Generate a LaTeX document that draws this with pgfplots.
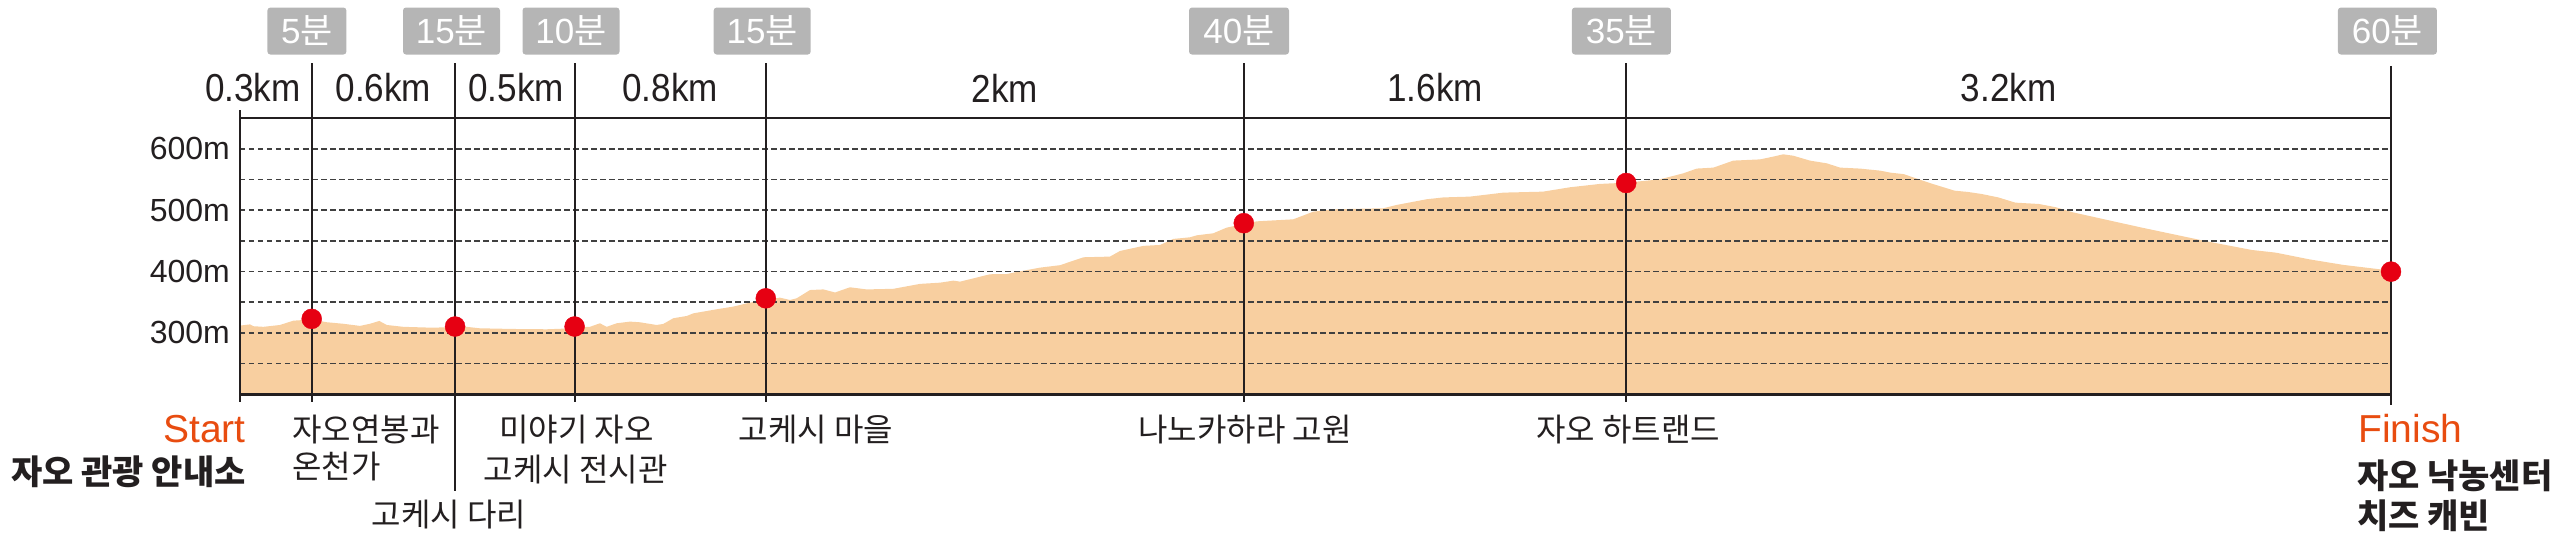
\documentclass[border=0pt]{standalone}
\usepackage{pgfplots}
\pgfplotsset{compat=1.18}
\usepackage{fontspec}
\setmainfont{Liberation Sans}
\newfontfamily\kr{Noto Sans CJK KR}
\newfontfamily\cond{Liberation Sans}[FakeStretch=0.9]
\definecolor{peach}{HTML}{F8CFA0}
\definecolor{dotred}{HTML}{E60012}
\definecolor{boxgray}{HTML}{B5B5B5}
\definecolor{ink}{HTML}{231F20}
\definecolor{startorange}{HTML}{E84C10}
\definecolor{gridc}{HTML}{404040}
\tikzset{
  boxnode/.style={fill=boxgray, rounded corners=3pt, minimum height=47pt, inner sep=0pt, text=white, font=\fontsize{35}{35}\selectfont},
  dist/.style={font=\cond\fontsize{39}{39}\selectfont, text=ink, inner sep=0pt},
  lab/.style={font=\kr\fontsize{32}{32}\selectfont, text=ink, inner sep=0pt},
  blab/.style={font=\kr\bfseries\fontsize{34}{34}\selectfont, text=ink, inner sep=0pt},
  olab/.style={font=\fontsize{39}{39}\selectfont, text=startorange, inner sep=0pt},
}
\begin{document}
\begin{tikzpicture}
\begin{axis}[
  at={(240pt,145.7pt)}, anchor=south west,
  scale only axis, width=2151pt, height=276pt,
  xmin=0, xmax=9, ymin=200, ymax=650,
  clip=false,
  axis line style={draw=none},
  xtick=\empty,
  ytick={300,400,500,600},
  yticklabels={300m,400m,500m,600m},
  major tick length=0pt,
  yticklabel style={font=\fontsize{32}{32}\selectfont, text=ink, inner sep=0pt, anchor=east, xshift=-10pt},
]
% elevation profile
\addplot[fill=peach, draw=none] coordinates {
(0,312) (0.042,314) (0.056,311) (0.098,310) (0.167,313) (0.223,320) (0.3,322)
(0.363,317.5) (0.432,315) (0.502,311.5) (0.544,315) (0.583,319.6) (0.614,313)
(0.683,310) (0.795,308.7) (0.851,309) (0.9,310) (0.948,310) (1.004,307.6)
(1.144,306.5) (1.283,306) (1.353,307) (1.4,309) (1.464,310) (1.506,315.8)
(1.534,310) (1.576,315.8) (1.632,318.5) (1.674,317.4) (1.743,313) (1.771,314.7)
(1.813,324) (1.869,327.7) (1.897,332) (1.994,338.6) (2.064,343) (2.134,349.5)
(2.2,354) (2.259,357.6) (2.301,353.8) (2.329,356.5) (2.385,370) (2.441,371)
(2.49,366) (2.552,374.5) (2.622,371) (2.734,372) (2.845,380) (2.929,382)
(2.985,385.3) (3.013,383.7) (3.138,395.7) (3.208,396) (3.25,399.5) (3.347,406.5)
(3.431,410.5) (3.529,423.4) (3.64,424.5) (3.682,433.7) (3.78,442) (3.85,443.5)
(3.905,453.3) (3.975,456) (4.003,459.2) (4.072,462.5) (4.128,471.7) (4.2,477.7)
(4.254,482) (4.407,485.3) (4.491,497.8) (4.575,501.6) (4.784,503.3) (4.839,508.7)
(4.965,518) (5.035,521) (5.146,522.3) (5.286,528.8) (5.452,530.4) (5.564,537.5)
(5.69,543) (5.8,545) (5.941,550.5) (6.039,560.3) (6.095,568) (6.165,569.6)
(6.248,581) (6.36,583) (6.415,587.5) (6.457,591.3) (6.499,589) (6.569,581)
(6.639,576.6) (6.695,569.6) (6.778,568) (6.862,564.7) (6.905,561.4) (6.961,559)
(7.074,544) (7.174,532) (7.23,529.9) (7.287,526.6) (7.357,521) (7.428,512.5)
(7.527,510.3) (7.598,505) (7.669,496.7) (7.951,472.3) (8.234,449) (8.418,435.3)
(8.517,431) (8.659,420) (8.8,411) (9.0,401.6)
} \closedcycle;
% dashed grid
\pgfplotsinvokeforeach{250,300,350,400,450,500,550,600}{
  \draw[gridc, line width=1.6pt, dash pattern=on 5.5pt off 3.5pt] (axis cs:0,#1) -- (axis cs:9,#1);
}
% frame lines
\draw[ink, line width=2.2pt] (axis cs:0,650) -- (axis cs:9,650);
\draw[ink, line width=2.6pt] (axis cs:0,200) -- (axis cs:9,200);
\draw[ink, line width=2.2pt] (axis cs:0,663.5) -- (axis cs:0,187.4);
\pgfplotsinvokeforeach{0.3,1.4,2.2,4.2,5.8}{
  \draw[ink, line width=2pt] (axis cs:#1,739.4) -- (axis cs:#1,187.4);
}
\draw[ink, line width=2pt] (axis cs:0.9,739.4) -- (axis cs:0.9,42.3);
\draw[ink, line width=2pt] (axis cs:9,735.3) -- (axis cs:9,182.6);
% stops
\addplot[only marks, mark=*, mark size=10pt, color=dotred] coordinates {
(0.3,323) (0.9,310.5) (1.4,310.5) (2.2,356.5) (4.2,479) (5.8,544.5) (9,400)
};
% time boxes
\node[boxnode, minimum width=79pt] at (axis cs:0.28,792.3) {5{\kr 분}};
\node[boxnode, minimum width=97pt] at (axis cs:0.885,792.3) {15{\kr 분}};
\node[boxnode, minimum width=97pt] at (axis cs:1.385,792.3) {10{\kr 분}};
\node[boxnode, minimum width=97pt] at (axis cs:2.185,792.3) {15{\kr 분}};
\node[boxnode, minimum width=100pt] at (axis cs:4.18,792.3) {40{\kr 분}};
\node[boxnode, minimum width=99pt] at (axis cs:5.78,792.3) {35{\kr 분}};
\node[boxnode, minimum width=99pt] at (axis cs:8.985,792.3) {60{\kr 분}};
% distances
\node[dist, anchor=east] at (axis cs:0.255,699.4) {0.3km};
\node[dist] at (axis cs:0.6,699.4) {0.6km};
\node[dist] at (axis cs:1.155,699.4) {0.5km};
\node[dist] at (axis cs:1.8,699.4) {0.8km};
\node[dist] at (axis cs:3.2,699.4) {2km};
\node[dist] at (axis cs:5.0,699.4) {1.6km};
\node[dist] at (axis cs:7.4,699.4) {3.2km};
% bottom labels
\node[olab, anchor=east] at (axis cs:0.025,143.4) {Start};
\node[blab, anchor=east] at (axis cs:0.025,73.3) {자오 관광 안내소};
\node[lab, anchor=west] at (axis cs:0.218,142) {자오연봉과};
\node[lab, anchor=west] at (axis cs:0.218,81.5) {온천가};
\node[lab] at (axis cs:0.874,3.2) {고케시 다리};
\node[lab] at (axis cs:1.408,142) {미야기 자오};
\node[lab] at (axis cs:1.404,78) {고케시 전시관};
\node[lab] at (axis cs:2.41,142) {고케시 마을};
\node[lab] at (axis cs:4.205,142) {나노카하라 고원};
\node[lab] at (axis cs:5.808,142) {자오 하트랜드};
\node[olab, anchor=west] at (axis cs:8.862,143.4) {Finish};
\node[blab, anchor=west] at (axis cs:8.857,66.8) {자오 낙농센터};
\node[blab, anchor=west] at (axis cs:8.857,1.6) {치즈 캐빈};
\end{axis}
\pgfresetboundingbox
\useasboundingbox (0,0) rectangle (2560pt,540pt);
\end{tikzpicture}
\end{document}
